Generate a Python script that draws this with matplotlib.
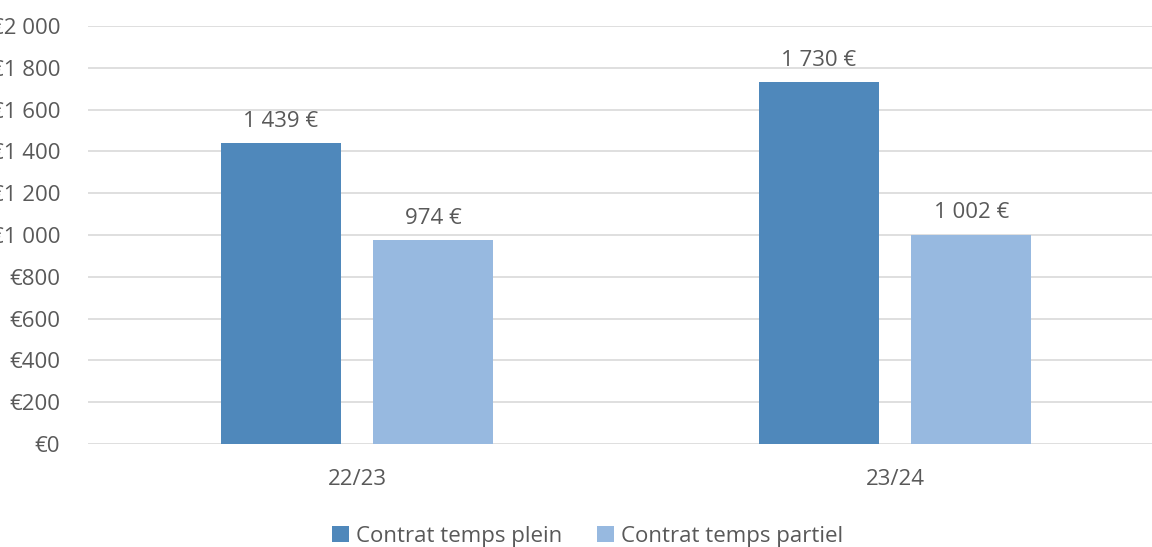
import matplotlib.pyplot as plt
import numpy as np

# Salaire moyen par type de contrat
annees = ["22/23", "23/24"]
temps_plein = [1439, 1730]
temps_partiel = [974, 1002]
series = ["Contrat temps plein", "Contrat temps partiel"]
yticks = [0, 200, 400, 600, 800, 1000, 1200, 1400, 1600, 1800, 2000]

bleu_fonce = "#4F88BB"
bleu_clair = "#97B9E0"
gris = "#595959"

plt.rcParams['font.family'] = ['Open Sans', 'DejaVu Sans']


def euro(v, suffix=False):
    s = f"{v:,}".replace(",", " ")
    return f"{s} €" if suffix else f"€{s}"


fig = plt.figure(figsize=(11.52, 5.47), dpi=100)
# axes runs past the right edge of the figure
ax = fig.add_axes([88 / 1152, 103 / 547, 1076 / 1152, 418 / 547])

x = np.arange(len(annees))
w = 0.223
off = 0.142
b1 = ax.bar(x - off, temps_plein, w, color=bleu_fonce, label=series[0], zorder=3)
b2 = ax.bar(x + off, temps_partiel, w, color=bleu_clair, label=series[1], zorder=3)

for bars, vals in ((b1, temps_plein), (b2, temps_partiel)):
    for r, v in zip(bars, vals):
        ax.annotate(euro(v, True), (r.get_x() + r.get_width() / 2, v),
                    xytext=(0, 8), textcoords="offset points",
                    ha="center", va="bottom", fontsize=16, color=gris)

ax.set_xlim(-0.5, 1.5)
ax.set_ylim(0, 2000)
ax.set_yticks(yticks)
ax.set_yticklabels([euro(v) for v in yticks])
ax.set_xticks(x)
ax.set_xticklabels(annees)
ax.tick_params(axis="both", length=0, labelsize=16, labelcolor=gris)
ax.tick_params(axis="y", pad=20)
ax.tick_params(axis="x", pad=18)
ax.grid(axis="y", color="#D9D9D9", linewidth=1.2, zorder=0)
for s in ax.spines.values():
    s.set_visible(False)

fig.legend(loc="lower center", bbox_to_anchor=(0.51, -0.036), ncol=2,
           frameon=False, fontsize=16, labelcolor=gris,
           handlelength=0.75, handleheight=0.75, handletextpad=0.3,
           columnspacing=1.6)

fig.savefig("out.png", dpi=100)
